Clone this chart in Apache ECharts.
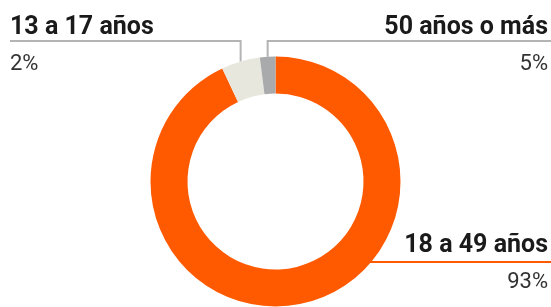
<!DOCTYPE html>
<html><head><meta charset="utf-8">
<script src="https://cdn.jsdelivr.net/npm/echarts@6/dist/echarts.min.js"></script>
<style>html,body{margin:0;padding:0;background:#fff}#c{width:551px;height:307px}</style>
</head><body><div id="c"></div>
<script>
// Data (slice sizes as drawn; share texts as printed on the chart)
const categories = ['18 a 49 años', '13 a 17 años', '50 años o más'];
const values = [93, 5, 2];
const shareLabels = ['93%', '2%', '5%'];

const chart = echarts.init(document.getElementById('c'), null, {renderer: 'canvas'});
const CX = 275.5, CY = 181.5, R0 = 88, R = 125;
const TOP_LINE_Y = 41, BOTTOM_LINE_Y = 262;

const sliceColors = ['#ff5a00', '#e8e7de', '#a9aaac'];
const lineColors = ['#ff5a00', '#b4b4b4', '#b4b4b4'];

const option = {
  animation: false,
  backgroundColor: '#ffffff',
  textStyle: {fontFamily: 'Roboto'},
  series: [{
    type: 'pie',
    center: [CX, CY],
    radius: [R0, R],
    startAngle: 90,
    clockwise: true,
    avoidLabelOverlap: false,
    silent: true,
    data: categories.map((c, i) => ({
      name: c, value: values[i],
      itemStyle: {color: sliceColors[i]},
      labelLine: {lineStyle: {color: lineColors[i], width: 2}}
    })),
    itemStyle: {borderWidth: 0},
    label: {
      show: true,
      position: 'outside',
      formatter: p => '{n|' + p.name + '}\n{v|' + shareLabels[p.dataIndex] + '}',
      rich: {
        n: {fontFamily: 'Roboto', fontWeight: 'bold', fontSize: 25, lineHeight: 36, color: '#1a1a1a'},
        v: {fontFamily: 'Roboto', fontWeight: 'normal', fontSize: 22, lineHeight: 36, color: '#333333'}
      }
    },
    labelLine: {show: true, smooth: false, length: 10, length2: 10},
    labelLayout: function (p) {
      const W = chart.getWidth();
      const i = p.dataIndex;
      const pt = p.labelLinePoints ? p.labelLinePoints[0] : [CX, CY - R];
      if (i === 1) {
        return {x: 10, y: TOP_LINE_Y + 5, align: 'left', verticalAlign: 'middle',
          labelLinePoints: [[pt[0], pt[1]], [pt[0], TOP_LINE_Y], [10, TOP_LINE_Y]]};
      } else if (i === 2) {
        return {x: W - 3, y: TOP_LINE_Y + 5, align: 'right', verticalAlign: 'middle',
          labelLinePoints: [[pt[0], pt[1]], [pt[0], TOP_LINE_Y], [W, TOP_LINE_Y]]};
      } else {
        const dy = BOTTOM_LINE_Y - CY;
        const ex = CX + Math.sqrt(R * R - dy * dy);
        return {x: W - 3, y: BOTTOM_LINE_Y + 2, align: 'right', verticalAlign: 'middle',
          labelLinePoints: [[ex - 2, BOTTOM_LINE_Y], [ex + 20, BOTTOM_LINE_Y], [W, BOTTOM_LINE_Y]]};
      }
    }
  }]
};
chart.setOption(option);
</script>
</body></html>
